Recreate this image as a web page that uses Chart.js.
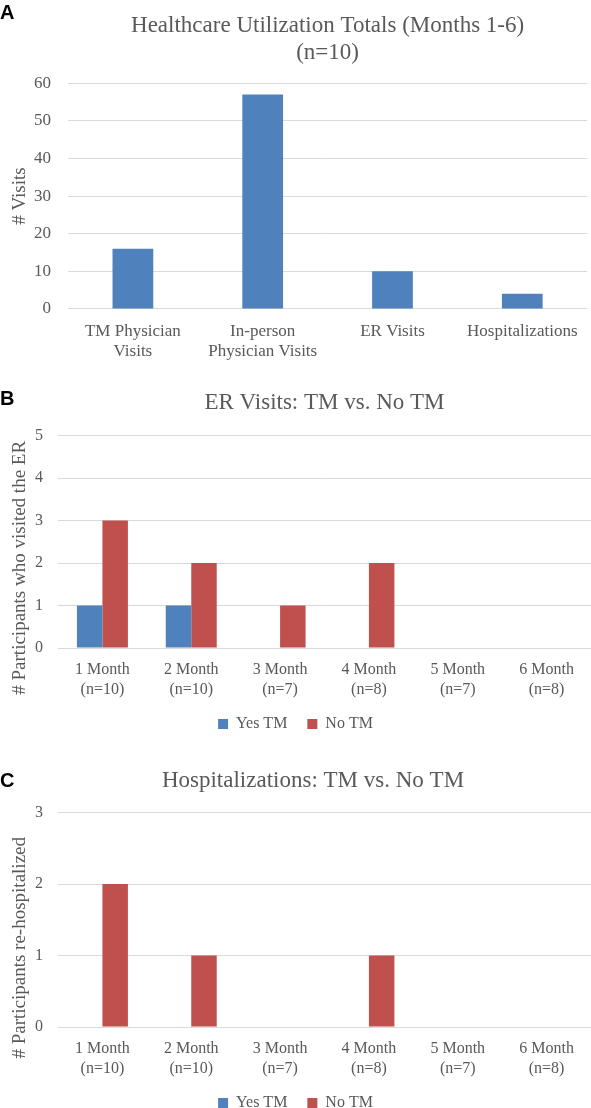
<!DOCTYPE html>
<html>
<head>
<meta charset="utf-8">
<script src="https://cdn.jsdelivr.net/npm/chart.js@4.4.1/dist/chart.umd.min.js"></script>
<style>
  html, body { margin: 0; padding: 0; background: #fff; }
  #page { position: relative; width: 591px; height: 1108px; overflow: hidden; }
  .panel { position: absolute; left: 0; width: 591px; }
  .tag { position: absolute; left: 0; font: bold 20px "Liberation Sans", Arial, sans-serif; line-height: 20px; color: #000; }
</style>
</head>
<body>
<div id="page">
  <div class="panel" style="top:0;height:374px;"><canvas id="chart-a"></canvas></div>
  <div class="panel" style="top:370px;height:372px;"><canvas id="chart-b"></canvas></div>
  <div class="panel" style="top:748px;height:373px;"><canvas id="chart-c"></canvas></div>
  <div class="tag" style="top:2px;">A</div>
  <div class="tag" style="top:388px;">B</div>
  <div class="tag" style="top:770px;">C</div>
</div>
<script>
// ---- data ----
const utilCategories = [['TM Physician', 'Visits'], ['In-person', 'Physician Visits'], 'ER Visits', 'Hospitalizations'];
const utilVisits = [16, 57, 10, 4];

const monthNames = ['1 Month', '2 Month', '3 Month', '4 Month', '5 Month', '6 Month'];
const monthN = ['(n=10)', '(n=10)', '(n=7)', '(n=8)', '(n=7)', '(n=8)'];

const erYesTM = [1, 1, 0, 0, 0, 0];
const erNoTM = [3, 2, 1, 2, 0, 0];

const hospYesTM = [0, 0, 0, 0, 0, 0];
const hospNoTM = [2, 1, 0, 1, 0, 0];

// ---- styling ----
const BLUE = '#4f81bd';
const RED = '#c0504d';
const TEXT = '#595959';
const GRID = '#d9d9d9';
const SERIF = '"Liberation Serif", "Times New Roman", serif';

Chart.defaults.font.family = SERIF;
Chart.defaults.color = TEXT;

// rotated y-axis title, can be nudged along the axis
const sideTitle = {
  id: 'sideTitle',
  afterDraw(chart, args, opts) {
    if (!opts.text) return;
    const { ctx, chartArea } = chart;
    ctx.save();
    ctx.font = `${opts.size}px ${SERIF}`;
    ctx.fillStyle = TEXT;
    ctx.textAlign = 'center';
    ctx.textBaseline = 'alphabetic';
    ctx.translate(opts.x, (chartArea.top + chartArea.bottom) / 2 + (opts.shift || 0));
    ctx.rotate(-Math.PI / 2);
    ctx.fillText(opts.text, 0, 0);
    ctx.restore();
  }
};

new Chart(document.getElementById('chart-a'), {
  type: 'bar',
  data: {
    labels: utilCategories,
    datasets: [{ label: '# Visits', data: utilVisits, backgroundColor: BLUE }]
  },
  options: {
    responsive: true,
    maintainAspectRatio: false,
    animation: false,
    layout: { padding: 0 },
    datasets: { bar: { categoryPercentage: 1, barPercentage: 0.314 } },
    plugins: {
      title: {
        display: true,
        text: ['Healthcare Utilization Totals (Months 1-6)', '(n=10)'],
        fullSize: false,
        color: TEXT,
        font: { size: 23, weight: 'normal', lineHeight: 1.2 },
        padding: { top: 12, bottom: 16 }
      },
      legend: { display: false },
      tooltip: { enabled: false },
      sideTitle: { text: '# Visits', size: 19, x: 25, shift: 0 }
    },
    scales: {
      x: {
        grid: { display: false, drawTicks: false },
        border: { display: false },
        ticks: { font: { size: 17, lineHeight: 1.15 }, padding: 13, maxRotation: 0, autoSkip: false }
      },
      y: {
        min: 0,
        max: 60,
        ticks: { stepSize: 10, padding: 17, font: { size: 17 } },
        grid: { color: GRID, drawTicks: false },
        border: { display: false },
        afterFit: (s) => { s.width = 68; }
      }
    }
  },
  plugins: [sideTitle]
});

// legend labels with a wider gap after every item but the last
function spacedLabels(chart) {
  const items = Chart.defaults.plugins.legend.labels.generateLabels(chart);
  items.forEach((it, i) => { if (i < items.length - 1) it.text += '    '; });
  return items;
}

function groupedConfig(o) {
  return {
    type: 'bar',
    data: {
      labels: monthNames.map((m, i) => [m, monthN[i]]),
      datasets: [
        { label: 'Yes TM', data: o.yes, backgroundColor: BLUE },
        { label: 'No TM', data: o.no, backgroundColor: RED }
      ]
    },
    options: {
      responsive: true,
      maintainAspectRatio: false,
      animation: false,
      layout: { padding: 0 },
      datasets: { bar: { categoryPercentage: 0.574, barPercentage: 1 } },
      plugins: {
        title: {
          display: true,
          text: o.title,
          fullSize: false,
          color: TEXT,
          font: { size: 23, weight: 'normal', lineHeight: 1.2 },
          padding: { top: 19, bottom: o.titleGap }
        },
        legend: {
          position: 'bottom',
          labels: {
            boxWidth: 10, boxHeight: 10, padding: 4, color: TEXT, font: { size: 16 },
            generateLabels: spacedLabels
          }
        },
        tooltip: { enabled: false },
        sideTitle: { text: o.yTitle, size: 19, x: 25, shift: o.shift }
      },
      scales: {
        x: {
          grid: { display: false, drawTicks: false },
          border: { display: false },
          ticks: { font: { size: 16, lineHeight: 1.25 }, padding: 12, maxRotation: 0, autoSkip: false }
        },
        y: {
          min: 0,
          max: o.max,
          ticks: { stepSize: 1, padding: 15, font: { size: 16 } },
          grid: { color: GRID, drawTicks: false },
          border: { display: false },
          afterFit: (s) => { s.width = 58; }
        }
      }
    },
    plugins: [sideTitle]
  };
}

new Chart(document.getElementById('chart-b'), groupedConfig({
  title: 'ER Visits: TM vs. No TM',
  yTitle: '# Participants who visited the ER',
  yes: erYesTM,
  no: erNoTM,
  max: 5,
  titleGap: 19,
  shift: 26
}));

new Chart(document.getElementById('chart-c'), groupedConfig({
  title: 'Hospitalizations: TM vs. No TM    ',
  yTitle: '# Participants re-hospitalized',
  yes: hospYesTM,
  no: hospNoTM,
  max: 3,
  titleGap: 18,
  shift: 28
}));
</script>
</body>
</html>
